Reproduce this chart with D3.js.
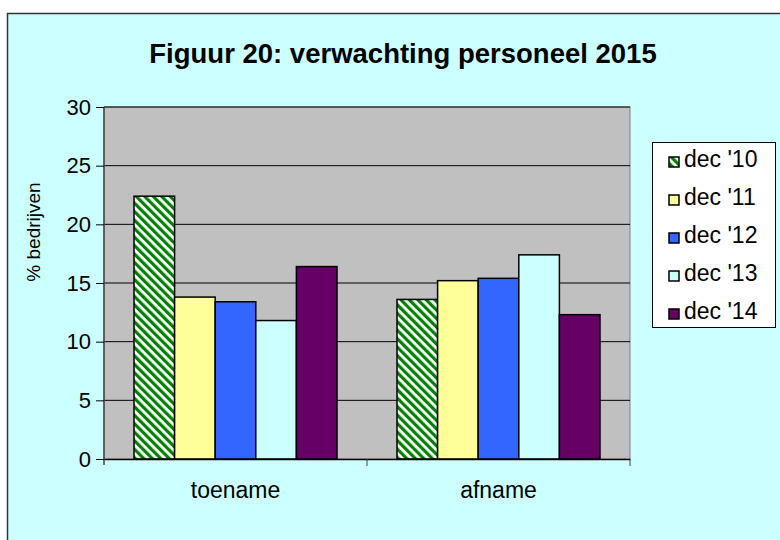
<!DOCTYPE html>
<html>
<head>
<meta charset="utf-8">
<script src="https://cdn.jsdelivr.net/npm/d3@7"></script>
<style>
  body { margin: 0; background: #fff; }
  text { font-family: Arial, "Liberation Sans", sans-serif; }
</style>
</head>
<body>
<script>
// Data
const categories = ["toename", "afname"];
const seriesNames = ["dec '10", "dec '11", "dec '12", "dec '13", "dec '14"];
const toename = [22.4, 13.8, 13.4, 11.8, 16.4];
const afname = [13.6, 15.2, 15.4, 17.4, 12.3];
const yTicks = [0, 5, 10, 15, 20, 25, 30];
const colors = ["url(#hatch)", "#FFFF99", "#3366FF", "#CCFFFF", "#660066"];

const values = [toename, afname];

// Layout
const margin = { top: 107, left: 104 };
const width = 526;
const height = 352;

const svg = d3.select("body")
  .append("svg")
  .attr("width", 780)
  .attr("height", 540);

// hatch pattern for first series
const defs = svg.append("defs");
const pat = defs.append("pattern")
  .attr("id", "hatch")
  .attr("patternUnits", "userSpaceOnUse")
  .attr("width", 6)
  .attr("height", 6)
  .attr("patternTransform", "rotate(-45)");
pat.append("rect").attr("width", 6).attr("height", 6).attr("fill", "#fff");
pat.append("rect").attr("width", 3.2).attr("height", 6).attr("fill", "#008000");

// chart background + border
svg.append("rect")
  .attr("x", 7.5).attr("y", 13.5)
  .attr("width", 790).attr("height", 540)
  .attr("fill", "#CCFFFF")
  .attr("stroke", "#333")
  .attr("stroke-width", 1.5);

// title
svg.append("text")
  .attr("x", 403).attr("y", 63)
  .attr("text-anchor", "middle")
  .attr("font-size", 27.5)
  .attr("font-weight", "bold")
  .text("Figuur 20: verwachting personeel 2015");

const g = svg.append("g")
  .attr("transform", "translate(" + margin.left + "," + margin.top + ")");

// Scales
const x0 = d3.scaleBand()
  .domain(categories)
  .range([0, width]);

const x1 = d3.scaleBand()
  .domain(seriesNames)
  .range([30, x0.bandwidth() - 30]);

const y = d3.scaleLinear()
  .domain([0, 30])
  .range([height, 0]);

// plot area
g.append("rect")
  .attr("width", width)
  .attr("height", height)
  .attr("fill", "#C0C0C0")
  .attr("stroke", "#808080");

// gridlines
g.selectAll(".grid")
  .data(yTicks.slice(1))
  .enter()
  .append("line")
  .attr("x1", 0).attr("x2", width)
  .attr("y1", d => y(d)).attr("y2", d => y(d))
  .attr("stroke", "#000")
  .attr("stroke-width", 1);

// bars
categories.forEach((cat, ci) => {
  g.selectAll(".bar" + ci)
    .data(values[ci])
    .enter()
    .append("rect")
    .attr("x", (d, i) => x0(cat) + x1(seriesNames[i]))
    .attr("y", d => y(d))
    .attr("width", x1.bandwidth())
    .attr("height", d => height - y(d))
    .attr("fill", (d, i) => colors[i])
    .attr("stroke", "#000")
    .attr("stroke-width", 1.5);
});

// y axis
const yAxis = g.append("g")
  .call(d3.axisLeft(y).tickValues(yTicks).tickSize(8).tickPadding(5));
yAxis.select(".domain").attr("stroke", "#444").attr("stroke-width", 1.5)
  .attr("d", "M0,0V" + (height + 6));
yAxis.selectAll("text").attr("font-size", 22).attr("fill", "#000");

// x axis
const xAxis = g.append("g")
  .attr("transform", "translate(0," + height + ")")
  .call(d3.axisBottom(x0).tickSize(0).tickPadding(23));
xAxis.select(".domain").attr("stroke", "#000").attr("stroke-width", 1.5);
xAxis.selectAll("text").attr("font-size", 23).attr("fill", "#000");
g.selectAll(".xtick")
  .data([x0.step(), width])
  .enter()
  .append("line")
  .attr("x1", d => d).attr("x2", d => d)
  .attr("y1", height).attr("y2", height + 7)
  .attr("stroke", "#444");

// y label
svg.append("text")
  .attr("transform", "translate(40,232) rotate(-90)")
  .attr("text-anchor", "middle")
  .attr("font-size", 19)
  .text("% bedrijven");

// legend
const legend = svg.append("g");
legend.append("rect")
  .attr("x", 652.5).attr("y", 142.5)
  .attr("width", 123).attr("height", 185)
  .attr("fill", "#fff")
  .attr("stroke", "#000");

const item = legend.selectAll(".item")
  .data(seriesNames)
  .enter()
  .append("g")
  .attr("transform", (d, i) => "translate(669," + (157 + i * 38) + ")");
item.append("rect")
  .attr("width", 10).attr("height", 10)
  .attr("fill", (d, i) => colors[i])
  .attr("stroke", "#000")
  .attr("stroke-width", 1.5);
item.append("text")
  .attr("x", 15).attr("y", 10)
  .attr("font-size", 23)
  .text(d => d);
</script>
</body>
</html>
